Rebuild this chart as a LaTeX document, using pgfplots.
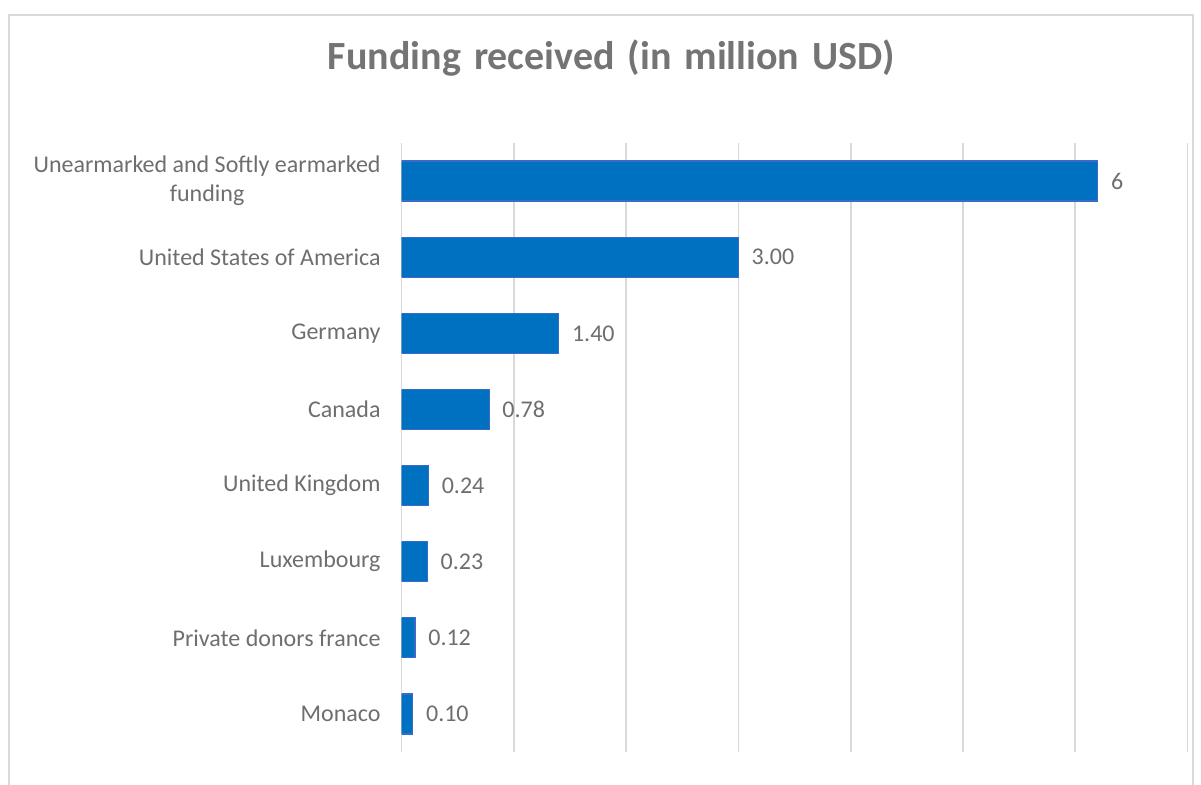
\documentclass[border=0pt]{standalone}
\usepackage{pgfplots}
\pgfplotsset{compat=1.18}
\usepackage{pgfplotstable}
\usepackage{fontspec}
\setmainfont{Carlito}
\definecolor{barblue}{HTML}{0070C0}
\definecolor{bardraw}{HTML}{3A6BC8}
\definecolor{txtgray}{HTML}{6E6E6E}
\definecolor{titlegray}{HTML}{747474}
\definecolor{gridgray}{HTML}{D9D9D9}
\pgfplotstableread{
idx val lab
0 6.2 6
1 3.00 3.00
2 1.40 1.40
3 0.78 0.78
4 0.24 0.24
5 0.23 0.23
6 0.12 0.12
7 0.10 0.10
}\datatable
\begin{document}
\begin{tikzpicture}
\useasboundingbox (0pt,0pt) rectangle (600.5pt,-392pt);
\draw[gridgray, line width=1pt] (4.25pt,-400pt) -- (4.25pt,-7.25pt) -- (596.5pt,-7.25pt) -- (596.5pt,-400pt);
\node[font=\fontsize{20}{24}\selectfont\bfseries, text=titlegray] at (305.75pt,-29pt) {Funding\hspace{2pt} received\hspace{2pt} (in\hspace{2pt} million\hspace{2pt} USD)};
\begin{axis}[
  at={(200.8pt,-376pt)}, anchor=south west,
  scale only axis, width=393pt, height=304.5pt,
  xbar, bar width=20pt,
  xmin=0, xmax=7, ymin=-0.5, ymax=7.5, y dir=reverse,
  xtick={0,1,...,7}, xticklabels={},
  ytick={0,1,...,7},
  yticklabels={{Unearmarked and Softly earmarked\\funding},{United States of America},{Germany},{Canada},{United Kingdom},{Luxembourg},{Private donors france},{Monaco}},
  yticklabel style={align=center, text=txtgray, font=\fontsize{12}{14.5}\selectfont, xshift=-7pt},
  xmajorgrids, grid style={gridgray, line width=0.9pt},
  axis line style={draw=none}, major tick length=0pt,
  nodes near coords, point meta=explicit symbolic,
  nodes near coords style={text=txtgray, font=\fontsize{12}{14}\selectfont, anchor=west, xshift=3pt},
]
\addplot[fill=barblue, draw=bardraw, line width=0.6pt] table[x=val, y=idx, meta=lab] {\datatable};
\end{axis}
\end{tikzpicture}
\end{document}
